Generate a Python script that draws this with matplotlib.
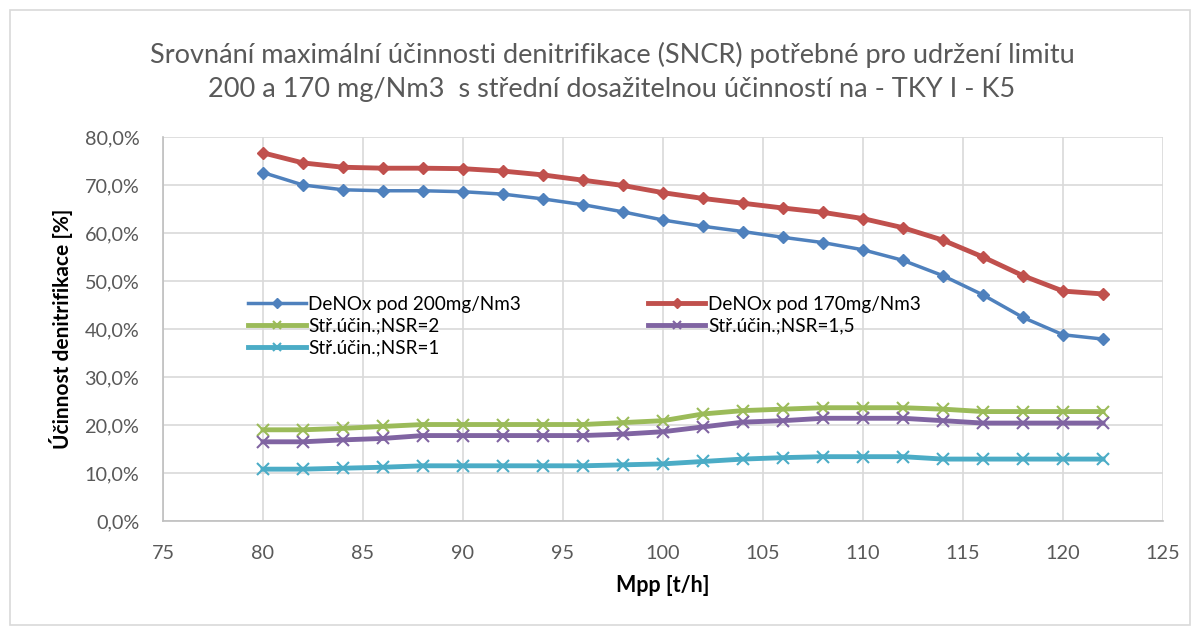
import matplotlib
matplotlib.use("Agg")
import matplotlib.pyplot as plt
from matplotlib.patches import Rectangle
from matplotlib.ticker import FuncFormatter, MultipleLocator

plt.rcParams['font.family'] = ['Lato', 'DejaVu Sans']

mpp = [80, 82, 84, 86, 88, 90, 92, 94, 96, 98, 100,
       102, 104, 106, 108, 110, 112, 114, 116, 118, 120, 122]

denox_200 = [72.6, 70.0, 69.0, 68.8, 68.8, 68.6, 68.1, 67.1, 65.9, 64.4, 62.7,
             61.4, 60.3, 59.1, 58.0, 56.5, 54.3, 51.1, 47.1, 42.4, 38.8, 37.9]
denox_170 = [76.7, 74.6, 73.7, 73.5, 73.5, 73.4, 72.9, 72.1, 71.0, 69.9, 68.4,
             67.2, 66.2, 65.2, 64.3, 63.0, 61.1, 58.5, 55.0, 51.1, 47.9, 47.3]
nsr_2 = [19.0, 19.0, 19.3, 19.7, 20.1, 20.1, 20.1, 20.1, 20.1, 20.5, 20.9,
         22.3, 23.0, 23.3, 23.6, 23.6, 23.6, 23.3, 22.8, 22.8, 22.8, 22.8]
nsr_15 = [16.5, 16.5, 16.9, 17.2, 17.8, 17.8, 17.8, 17.8, 17.8, 18.1, 18.6,
          19.6, 20.6, 20.9, 21.4, 21.4, 21.4, 20.9, 20.4, 20.4, 20.4, 20.4]
nsr_1 = [10.8, 10.8, 11.0, 11.2, 11.5, 11.5, 11.5, 11.5, 11.5, 11.7, 11.9,
         12.4, 12.9, 13.2, 13.4, 13.4, 13.4, 12.9, 12.9, 12.9, 12.9, 12.9]

labels = ["DeNOx pod 200mg/Nm3", "DeNOx pod 170mg/Nm3",
          "Stř.účin.;NSR=2", "Stř.účin.;NSR=1,5", "Stř.účin.;NSR=1"]

title = ("Srovnání maximální účinnosti denitrifikace (SNCR) potřebné pro udržení limitu\n"
         "200 a 170 mg/Nm3  s střední dosažitelnou účinností na - TKY I - K5")

fig = plt.figure(figsize=(12, 6.3), dpi=100)
fig.patch.set_facecolor('white')
fig.add_artist(Rectangle((10 / 1200, 5 / 630), 1180 / 1200, 615 / 630,
                         transform=fig.transFigure, fill=False,
                         edgecolor='#D9D9D9', linewidth=1.2))

ax = fig.add_axes([163 / 1200, 109 / 630, 1000 / 1200, 384 / 630])

h200, = ax.plot(mpp, [v / 100 for v in denox_200], color='#4F81BD', lw=2.5,
                marker='D', ms=6.5, zorder=4)
h170, = ax.plot(mpp, [v / 100 for v in denox_170], color='#C0504D', lw=3.5,
                marker='D', ms=6.5, zorder=4)
h2, = ax.plot(mpp, [v / 100 for v in nsr_2], color='#9BBB59', lw=3.5,
              marker='x', ms=8, mew=1.5, zorder=3)
h15, = ax.plot(mpp, [v / 100 for v in nsr_15], color='#8064A2', lw=3.5,
               marker='x', ms=8, mew=1.5, zorder=3)
h1, = ax.plot(mpp, [v / 100 for v in nsr_1], color='#4BACC6', lw=3.5,
              marker='x', ms=8, mew=1.5, zorder=3)

ax.set_xlim(75, 125)
ax.set_ylim(0, 0.8)
ax.xaxis.set_major_locator(MultipleLocator(5))
ax.yaxis.set_major_locator(MultipleLocator(0.1))
ax.yaxis.set_major_formatter(FuncFormatter(lambda v, p: f"{v * 100:.1f}%".replace('.', ',')))

ax.grid(True, color='#D9D9D9', lw=1.2)
ax.set_axisbelow(True)
for side in ('top', 'right'):
    ax.spines[side].set_visible(False)
for side in ('left', 'bottom'):
    ax.spines[side].set_color('#BFBFBF')
    ax.spines[side].set_linewidth(1.2)
ax.tick_params(length=0, labelsize=14.3, labelcolor='#595959')
ax.tick_params(axis='x', pad=17)
ax.tick_params(axis='y', pad=17)

ax.set_xlabel("Mpp [t/h]", fontsize=15.5, fontweight='bold', labelpad=10)
ax.set_ylabel("Účinnost denitrifikace [%]", fontsize=15, fontweight='bold', labelpad=8)

fig.text(0.51, 0.886, title, ha='center', va='center', fontsize=19.5,
         color='#595959', linespacing=1.45)

leg = ax.legend([h200, h2, h1, h170, h15],
                [labels[0], labels[2], labels[4], labels[1], labels[3]],
                ncol=2, frameon=False, fontsize=13.6,
                loc='upper left', bbox_to_anchor=(0.068, 0.63),
                handlelength=3.05, handletextpad=0.15, columnspacing=6.7,
                labelspacing=0.25, markerscale=0.8)

fig.savefig("out.png", dpi=100)
